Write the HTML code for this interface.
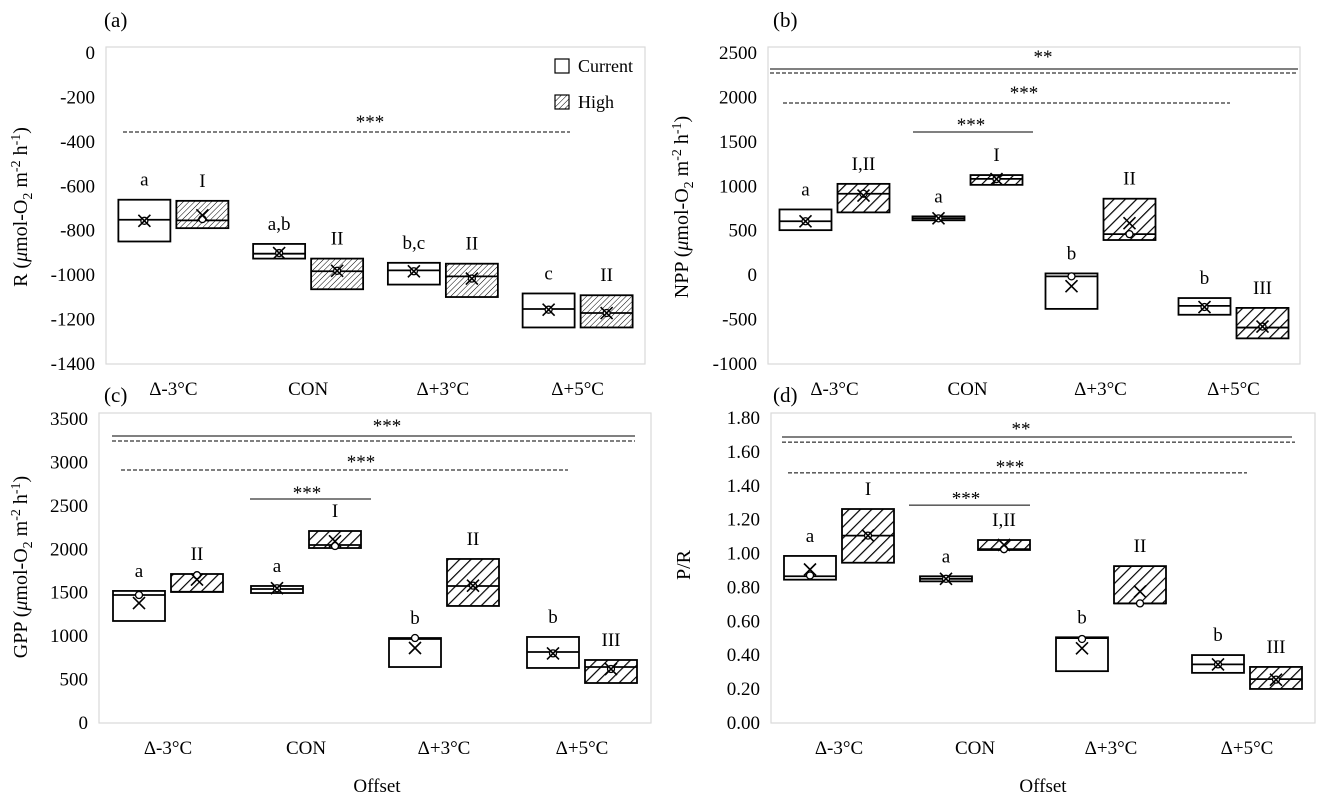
<!DOCTYPE html>
<html><head><meta charset="utf-8"><style>
html,body{margin:0;padding:0;background:#fff;}
svg{display:block;font-family:"Liberation Serif","Times New Roman",serif;}
</style></head><body>
<svg id="fig" width="1318" height="802" viewBox="0 0 1318 802" xmlns="http://www.w3.org/2000/svg">
<defs>
<pattern id="hatchFine" patternUnits="userSpaceOnUse" width="4" height="4" patternTransform="rotate(45)"><rect width="4" height="4" fill="#fff"/><line x1="0" y1="0" x2="0" y2="4" stroke="#000" stroke-width="1"/></pattern>
<pattern id="hatchWide" patternUnits="userSpaceOnUse" width="8" height="8" patternTransform="rotate(45)"><rect width="8" height="8" fill="#fff"/><line x1="0" y1="0" x2="0" y2="8" stroke="#000" stroke-width="2.4"/></pattern>
</defs>
<g id="root"></g>
</svg>
<script>
const categories = ["Δ-3°C","CON","Δ+3°C","Δ+5°C"];

// Panel (a) R
const aCurQ3 = [-665,-864,-949,-1087];
const aCurQ1 = [-853,-930,-1047,-1240];
const aCurMed = [-755,-908,-983,-1157];
const aCurMean = [-760,-905,-987,-1160];
const aCurPt = [-760,-905,-987,-1160];
const aHiQ3 = [-670,-930,-953,-1095];
const aHiQ1 = [-793,-1068,-1103,-1240];
const aHiMed = [-758,-987,-1010,-1175];
const aHiMean = [-735,-985,-1020,-1175];
const aHiPt = [-752,-985,-1020,-1175];
const aCurLetters = ["a","a,b","b,c","c"];
const aHiLetters = ["I","II","II","II"];

// Panel (b) NPP
const bCurQ3 = [728,650,8,-269];
const bCurQ1 = [495,606,-391,-457];
const bCurMed = [595,628,-25,-357];
const bCurMean = [595,628,-136,-370];
const bCurPt = [595,628,-25,-370];
const bHiQ3 = [1016,1115,849,-380];
const bHiQ1 = [695,1005,384,-723];
const bHiMed = [905,1072,450,-601];
const bHiMean = [885,1070,573,-590];
const bHiPt = [905,1070,450,-590];
const bCurLetters = ["a","a","b","b"];
const bHiLetters = ["I,II","I","II","III"];

// Panel (c) GPP
const cCurQ3 = [1509,1566,967,979];
const cCurQ1 = [1163,1485,633,622];
const cCurMed = [1462,1531,956,806];
const cCurMean = [1370,1540,852,790];
const cCurPt = [1462,1540,967,790];
const cHiQ3 = [1704,2199,1877,714];
const cHiQ1 = [1497,2003,1336,449];
const cHiMed = [1500,2038,1566,633];
const cHiMean = [1640,2080,1570,610];
const cHiPt = [1690,2026,1570,610];
const cCurLetters = ["a","a","b","b"];
const cHiLetters = ["II","I","II","III"];

// Panel (d) P/R
const dCurQ3 = [0.98,0.86,0.50,0.395];
const dCurQ1 = [0.84,0.83,0.30,0.29];
const dCurMed = [0.86,0.845,0.495,0.34];
const dCurMean = [0.90,0.845,0.435,0.34];
const dCurPt = [0.865,0.845,0.49,0.34];
const dHiQ3 = [1.257,1.074,0.92,0.325];
const dHiQ1 = [0.94,1.015,0.70,0.195];
const dHiMed = [1.10,1.02,0.70,0.253];
const dHiMean = [1.10,1.045,0.77,0.25];
const dHiPt = [1.10,1.02,0.70,0.25];
const dCurLetters = ["a","a","b","b"];
const dHiLetters = ["I","I,II","II","III"];

// y ticks per panel
const aTicks = [0,-200,-400,-600,-800,-1000,-1200,-1400];
const bTicks = [2500,2000,1500,1000,500,0,-500,-1000];
const cTicks = [3500,3000,2500,2000,1500,1000,500,0];
const dTicks = [1.8,1.6,1.4,1.2,1.0,0.8,0.6,0.4,0.2,0.0];

// significance annotations (value units)
const aSigLevels = [-360];
const aSigLabelLevels = [-293];
const bSigLevels = [2309,2264,1926,1600];
const bSigLabelLevels = [2500,2095,1735];
const cSigLevels = [3293,3235,2901,2567];
const cSigLabelLevels = [3465,3051,2694];
const dSigLevels = [1.682,1.652,1.47,1.28];
const dSigLabelLevels = [1.76,1.534,1.35];

const NS="http://www.w3.org/2000/svg";
const root=document.getElementById('root');
function mk(tag,attrs,parent,name,inter){
  const e=document.createElementNS(NS,tag);
  for(const k in attrs) e.setAttribute(k,attrs[k]);
  
  
  (parent||root).appendChild(e);return e;
}

function panel(cfg){
  const g=mk('g',{},root,'panel-'+cfg.id,false);
  const ys=v=>cfg.yTop+(cfg.max-v)/(cfg.max-cfg.min)*(cfg.yBot-cfg.yTop);
  const xc=i=>cfg.L+(cfg.R-cfg.L)*(i+0.5)/4;
  mk('rect',{x:cfg.L,y:cfg.T,width:cfg.R-cfg.L,height:cfg.B-cfg.T,fill:'none',stroke:'#d9d9d9','stroke-width':1.2},g,'plot-frame',false);
  cfg.ticks.forEach(t=>{
    const tx=mk('text',{x:cfg.L-11,y:ys(t)+7,'text-anchor':'end','font-size':19},g,'y-tick-label',false);
    tx.textContent=t.toFixed(cfg.dec);
  });
  categories.forEach((c,i)=>{
    const tx=mk('text',{x:xc(i),y:cfg.xLabY,'text-anchor':'middle','font-size':19},g,'x-tick-label',false);
    tx.textContent=c;
  });
  // sig lines
  cfg.sigStyle.forEach((s,k)=>{
    const y=ys(cfg.sig[k]);
    const a={x1:s[0],x2:s[1],y1:y,y2:y,stroke:'#000','stroke-width':1};
    if(s[2]) a['stroke-dasharray']='4,2';
    mk('line',a,g,'significance-line',false);
  });
  cfg.sigLab.forEach((l,k)=>{
    const tx=mk('text',{x:l[0],y:ys(cfg.sigLabV[k])+11,'text-anchor':'middle','font-size':19},g,'significance-stars',false);
    tx.textContent=l[1];
  });
  const series=[cfg.cur,cfg.hi];
  series.forEach((s,si)=>{
    for(let i=0;i<4;i++){
      const c=xc(i);
      const x0=si===0?c-55:c+3, w=52;
      const yq3=ys(s.q3[i]), yq1=ys(s.q1[i]);
      mk('rect',{x:x0,y:yq3,width:w,height:Math.max(yq1-yq3,1),fill:si===0?'#fff':cfg.hatch,stroke:'#000','stroke-width':1.8},g,si===0?'box-current':'box-high',false);
      const ym=ys(s.med[i]);
      mk('line',{x1:x0,x2:x0+w,y1:ym,y2:ym,stroke:'#000','stroke-width':1.8},g,'median-line',false);
      const yp=ys(s.pt[i]);
      mk('circle',{cx:x0+w/2,cy:yp,r:3.5,fill:'#fff',stroke:'#000','stroke-width':1.3},g,'data-point',false);
      const yx=ys(s.mean[i]);
      const cx=x0+w/2;
      mk('path',{d:`M${cx-6},${yx-6}L${cx+6},${yx+6}M${cx+6},${yx-6}L${cx-6},${yx+6}`,stroke:'#000','stroke-width':1.6,fill:'none'},g,'mean-marker',false);
      const tx=mk('text',{x:cx,y:yq3-20+6,'text-anchor':'middle','font-size':19},g,'group-letter',false);
      tx.textContent=s.let[i];
    }
  });
  const pl=mk('text',{x:cfg.tagX,y:cfg.tagY,'font-size':21},g,'panel-tag',false);
  pl.textContent=cfg.tag;
  const yt=mk('text',{transform:`translate(${cfg.titleX},${cfg.titleY}) rotate(-90)`,'text-anchor':'middle','font-size':20},g,'y-axis-title',false);
  yt.innerHTML=cfg.title;
}

const unit='(<tspan font-style="italic">μ</tspan>mol-O<tspan font-size="14" dy="5">2</tspan><tspan dy="-5"> m</tspan><tspan font-size="14" dy="-7">-2</tspan><tspan dy="7"> h</tspan><tspan font-size="14" dy="-7">-1</tspan><tspan dy="7">)</tspan>';

panel({id:'a',L:106,R:645,T:47,B:364,yTop:52,yBot:363,min:-1400,max:0,dec:0,ticks:aTicks,xLabY:395,hatch:'url(#hatchFine)',
  cur:{q3:aCurQ3,q1:aCurQ1,med:aCurMed,mean:aCurMean,pt:aCurPt,let:aCurLetters},
  hi:{q3:aHiQ3,q1:aHiQ1,med:aHiMed,mean:aHiMean,pt:aHiPt,let:aHiLetters},
  sig:aSigLevels,sigStyle:[[123,570,true]],sigLabV:aSigLabelLevels,sigLab:[[370,'***']],
  tag:'(a)',tagX:104,tagY:27,title:'R '+unit,titleX:27,titleY:207});
panel({id:'b',L:768,R:1300,T:47,B:364,yTop:52,yBot:363,min:-1000,max:2500,dec:0,ticks:bTicks,xLabY:395,hatch:'url(#hatchWide)',
  cur:{q3:bCurQ3,q1:bCurQ1,med:bCurMed,mean:bCurMean,pt:bCurPt,let:bCurLetters},
  hi:{q3:bHiQ3,q1:bHiQ1,med:bHiMed,mean:bHiMean,pt:bHiPt,let:bHiLetters},
  sig:bSigLevels,sigStyle:[[770,1298,false],[770,1298,true],[783,1230,true],[913,1033,false]],sigLabV:bSigLabelLevels,sigLab:[[1043,'**'],[1024,'***'],[971,'***']],
  tag:'(b)',tagX:773,tagY:27,title:'NPP '+unit,titleX:688,titleY:207});
panel({id:'c',L:99,R:651,T:413,B:723,yTop:418,yBot:722,min:0,max:3500,dec:0,ticks:cTicks,xLabY:754,hatch:'url(#hatchWide)',
  cur:{q3:cCurQ3,q1:cCurQ1,med:cCurMed,mean:cCurMean,pt:cCurPt,let:cCurLetters},
  hi:{q3:cHiQ3,q1:cHiQ1,med:cHiMed,mean:cHiMean,pt:cHiPt,let:cHiLetters},
  sig:cSigLevels,sigStyle:[[112,635,false],[112,635,true],[121,568,true],[250,371,false]],sigLabV:cSigLabelLevels,sigLab:[[387,'***'],[361,'***'],[307,'***']],
  tag:'(c)',tagX:104,tagY:402,title:'GPP '+unit,titleX:27,titleY:567});
panel({id:'d',L:771,R:1315,T:413,B:723,yTop:417,yBot:722,min:0,max:1.8,dec:2,ticks:dTicks,xLabY:754,hatch:'url(#hatchWide)',
  cur:{q3:dCurQ3,q1:dCurQ1,med:dCurMed,mean:dCurMean,pt:dCurPt,let:dCurLetters},
  hi:{q3:dHiQ3,q1:dHiQ1,med:dHiMed,mean:dHiMean,pt:dHiPt,let:dHiLetters},
  sig:dSigLevels,sigStyle:[[782,1292,false],[782,1295,true],[788,1247,true],[909,1030,false]],sigLabV:dSigLabelLevels,sigLab:[[1021,'**'],[1010,'***'],[966,'***']],
  tag:'(d)',tagX:773,tagY:402,title:'P/R',titleX:690,titleY:565});

// x-axis titles
const xt1=mk('text',{x:377,y:792,'text-anchor':'middle','font-size':19},root,'x-axis-title-c',false);
xt1.textContent='Offset';
const xt2=mk('text',{x:1043,y:792,'text-anchor':'middle','font-size':19},root,'x-axis-title-d',false);
xt2.textContent='Offset';

// legend
const lg=mk('g',{},root,'legend',false);
mk('rect',{x:555,y:59,width:14,height:14,fill:'#fff',stroke:'#000','stroke-width':1.2},lg,'legend-swatch-current',false);
const l1=mk('text',{x:578,y:72,'font-size':18},lg,'legend-label-current',false);
l1.textContent='Current';
mk('rect',{x:555,y:95,width:14,height:14,fill:'url(#hatchFine)',stroke:'#000','stroke-width':1.2},lg,'legend-swatch-high',false);
const l2=mk('text',{x:578,y:108,'font-size':18},lg,'legend-label-high',false);
l2.textContent='High';
</script>
</body></html>
